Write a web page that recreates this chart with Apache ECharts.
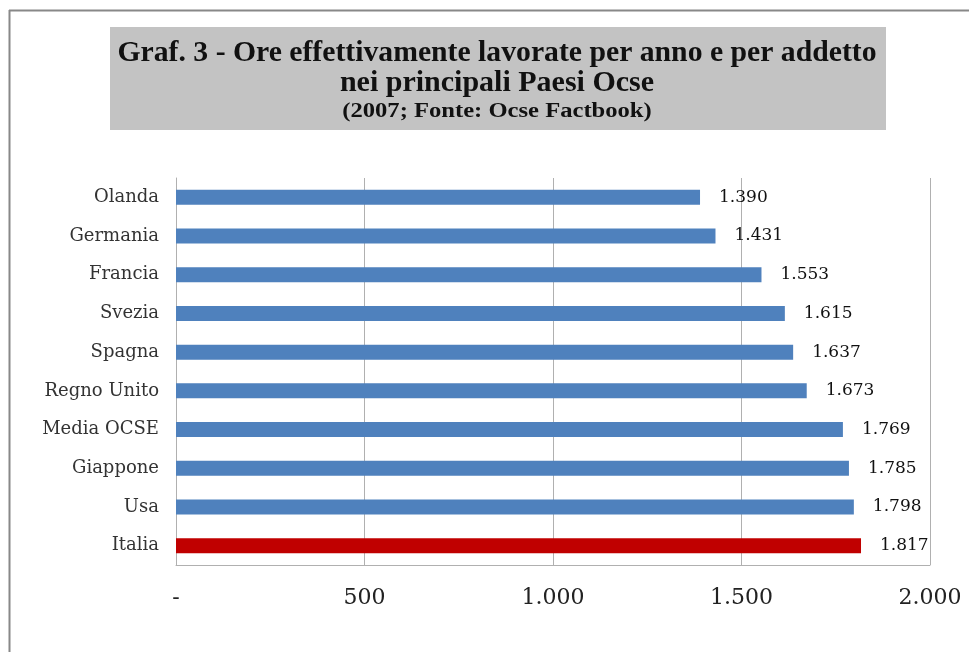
<!DOCTYPE html>
<html><head><meta charset="utf-8">
<script src="https://cdn.jsdelivr.net/npm/echarts@6/dist/echarts.min.js"></script>
<style>html,body{margin:0;padding:0;background:#fff}#c{width:969px;height:652px}</style>
</head><body><div id="c"></div>
<script>
const categories = ['Olanda','Germania','Francia','Svezia','Spagna','Regno Unito','Media OCSE','Giappone','Usa','Italia'];
const values = [1390,1431,1553,1615,1637,1673,1769,1785,1798,1817];
const highlight = 'Italia';
const tickLabels = {0:'-',500:'500',1000:'1.000',1500:'1.500',2000:'2.000'};
const titleLines = ['Graf. 3 - Ore effettivamente lavorate per anno e per addetto','nei principali Paesi Ocse','(2007; Fonte: Ocse Factbook)'];

function fmt(v){return String(v).replace(/\B(?=(\d{3})+(?!\d))/g,'.');}
const serif = '"Liberation Serif","DejaVu Serif",serif';
const wide = '"DejaVu Serif",serif';
const chart = echarts.init(document.getElementById('c'));
chart.setOption({
  animation:false,
  backgroundColor:'#fff',
  graphic:[
    {type:'line',shape:{x1:9.5,y1:10,x2:9.5,y2:652},style:{stroke:'#888',lineWidth:2}},
    {type:'line',shape:{x1:9,y1:10.5,x2:969,y2:10.5},style:{stroke:'#888',lineWidth:2}},
    {type:'rect',shape:{x:110,y:27,width:776,height:103},style:{fill:'#c3c3c3'}},
    {type:'text',x:497,y:53,scaleX:0.99,style:{x:0,y:0,text:titleLines[0],textAlign:'center',textVerticalAlign:'middle',font:'bold 30px '+serif,fill:'#111'}},
    {type:'text',x:497,y:83,scaleX:1.0,style:{x:0,y:0,text:titleLines[1],textAlign:'center',textVerticalAlign:'middle',font:'bold 30px '+serif,fill:'#111'}},
    {type:'text',x:497,y:112,scaleX:1.23,style:{x:0,y:0,text:titleLines[2],textAlign:'center',textVerticalAlign:'middle',font:'bold 20px '+serif,fill:'#111'}}
  ],
  grid:{left:176,right:39,top:178,bottom:87},
  xAxis:{type:'value',min:0,max:2000,interval:500,
    axisLine:{show:true,lineStyle:{color:'#b0b0b0'}},axisTick:{show:false},
    splitLine:{lineStyle:{color:'#b0b0b0'}},
    axisLabel:{margin:22,fontFamily:wide,fontSize:22,color:'#222',formatter:v=>tickLabels[v]}},
  yAxis:{type:'category',data:categories,inverse:true,
    axisLine:{show:true,lineStyle:{color:'#b0b0b0'}},axisTick:{show:false},
    axisLabel:{margin:17,fontFamily:wide,fontSize:18,color:'#333'}},
  series:[{type:'bar',barWidth:15,
    data:values.map((v,i)=>({value:v,itemStyle:{color:categories[i]===highlight?'#c00000':'#4f81bd'}})),
    label:{show:true,position:'right',distance:19,fontFamily:wide,fontSize:17,color:'#111',formatter:p=>fmt(p.value)}}]
});
</script></body></html>
